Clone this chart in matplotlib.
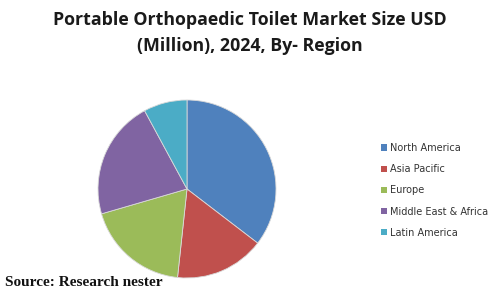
import matplotlib
matplotlib.use("Agg")
import matplotlib.pyplot as plt
from matplotlib.patches import Patch

regions = ["North America", "Asia Pacific", "Europe", "Middle East & Africa", "Latin America"]
shares = [35.4, 16.3, 18.8, 21.6, 7.9]
colors = ["#4F81BD", "#C0504D", "#9BBB59", "#8064A2", "#4BACC6"]

W, H = 500, 292
fig = plt.figure(figsize=(W / 100, H / 100), dpi=100)
fig.patch.set_facecolor("white")

cx, cy, r = 187, 189, 89
ax = fig.add_axes([(cx - r) / W, (H - cy - r) / H, 2 * r / W, 2 * r / H])
ax.pie(shares, colors=colors, startangle=90, counterclock=False,
       wedgeprops=dict(edgecolor="#d9d9d9", linewidth=0.6))
ax.set_xlim(-1, 1)
ax.set_ylim(-1, 1)
ax.set_aspect("equal")
ax.axis("off")

fig.text(0.5, 1 - 33 / H, "Portable Orthopaedic Toilet Market Size USD\n(Million), 2024, By- Region",
         ha="center", va="center", fontsize=12.8, fontweight="bold", family="Open Sans",
         linespacing=1.55, color="#1a1a1a")

handles = [Patch(facecolor=c, edgecolor="none") for c in colors]
leg = fig.legend(handles, regions, loc="upper left", bbox_to_anchor=(381 / W, 1 - 143 / H),
                 frameon=False, fontsize=7, handlelength=0.6, handleheight=0.6,
                 handletextpad=0.3, labelspacing=1.15, borderaxespad=0, borderpad=0)
for t in leg.get_texts():
    t.set_color("#333333")

fig.text(5 / W, 1 - 283 / H, "Source: Research nester", ha="left", va="center",
         fontsize=11, fontweight="bold", family="Liberation Serif", color="#111111")

fig.savefig("out.png", dpi=100, facecolor="white")
